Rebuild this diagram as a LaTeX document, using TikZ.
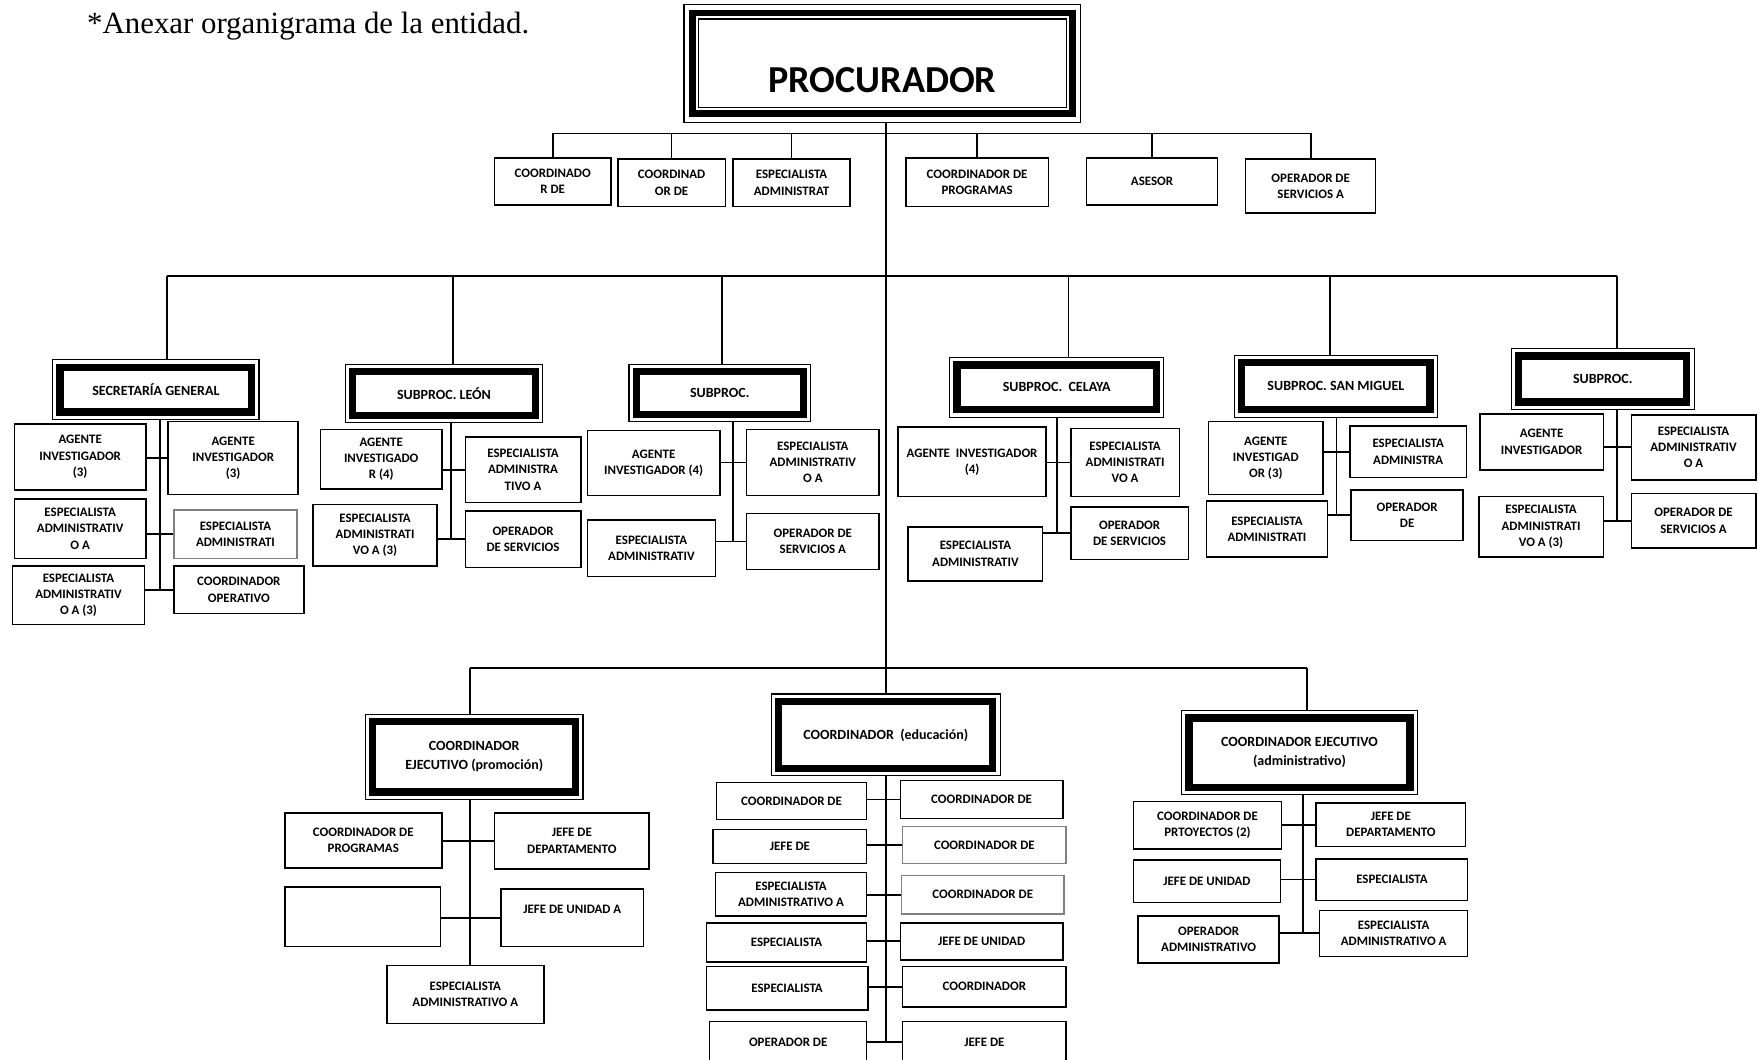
\documentclass[tikz,border=0pt]{standalone}
\usepackage{fontspec}
\setmainfont{Carlito}
\newfontfamily\tnr{Liberation Serif}
\tikzset{
  sz/.style 2 args={minimum width=#1pt, minimum height=#2pt},
  caja/.style={draw, line width=1.4pt, inner sep=1pt, align=center, font=\bfseries\fontsize{11.5}{14.5}\selectfont},
  gris/.style={caja, draw=black!50},
  jefe/.style={draw, line width=1pt, inner sep=1pt, align=center, font=\bfseries\fontsize{12.5}{17}\selectfont,
    path picture={\draw[line width=6.5pt] ([xshift=6.5pt,yshift=-6.5pt]path picture bounding box.north west) rectangle ([xshift=-6.5pt,yshift=6.5pt]path picture bounding box.south east);}},
  procbox/.style={draw, line width=1.2pt, inner sep=1pt, font=\bfseries\fontsize{34}{40}\selectfont, text height=52pt, text depth=0pt,
    path picture={\draw[line width=6pt] ([xshift=7.5pt,yshift=-7.5pt]path picture bounding box.north west) rectangle ([xshift=-7.5pt,yshift=7.5pt]path picture bounding box.south east);
      \draw[line width=1.2pt] ([xshift=13pt,yshift=-13pt]path picture bounding box.north west) rectangle ([xshift=-13pt,yshift=13pt]path picture bounding box.south east);}}
}
\begin{document}
\begin{tikzpicture}[x=1pt, y=-1pt, line width=1.6pt]
	\useasboundingbox (0,0) rectangle (1568,945);
	\node (tit)[anchor=base west, inner sep=0pt, font=\tnr\fontsize{27.5}{32}\selectfont] at (77,30) {*Anexar organigrama de la entidad.};
	% procurador y apoyo
	\node (proc)[procbox, sz={354}{105}] at (787,56.5) {PROCURADOR};
	\node (st1)[caja, sz={104}{42}] at (493,162) {COORDINADO\\R DE};
	\node (st2)[caja, sz={96}{42}] at (599,163) {COORDINAD\\OR DE};
	\node (st3)[caja, sz={104}{42}] at (706,163) {ESPECIALISTA\\ADMINISTRAT};
	\node (st4)[caja, sz={127}{43}] at (871.5,162.5) {COORDINADOR DE\\PROGRAMAS};
	\node (st5)[caja, sz={117}{42}] at (1027.5,162) {ASESOR};
	\node (st6)[caja, sz={116}{48}] at (1169,166) {OPERADOR DE\\SERVICIOS A};
	% subprocuradurias
	\node (sg)[jefe, sz={184}{53}] at (139,347.5) {SECRETARÍA GENERAL};
	\node (le)[jefe, sz={176}{52}] at (396,351) {SUBPROC. LEÓN};
	\node (sx)[jefe, sz={162}{51}] at (642,350.5) {SUBPROC.};
	\node (ce)[jefe, sz={191}{53}] at (942.5,345.5) {SUBPROC.~~CELAYA};
	\node (sm)[jefe, sz={181}{55}] at (1191.5,344.5) {SUBPROC. SAN MIGUEL};
	\node (sy)[jefe, sz={163}{54}] at (1429.5,338) {SUBPROC.};
	% secretaria general
	\node (sgA)[caja, sz={117}{59}] at (71.5,407.5) {AGENTE\\INVESTIGADOR\\(3)};
	\node (sgB)[caja, sz={117}{53}] at (71.5,471.5) {ESPECIALISTA\\ADMINISTRATIV\\O A};
	\node (sgC)[caja, sz={118}{52}] at (70,531) {ESPECIALISTA\\ADMINISTRATIV\\O A (3)};
	\node (sgD)[caja, sz={116}{65}] at (208,408.5) {AGENTE\\INVESTIGADOR\\(3)};
	\node (sgE)[gris, sz={110}{43}] at (210,476.5) {ESPECIALISTA\\ADMINISTRATI};
	\node (sgF)[caja, sz={116}{42}] at (213,526) {COORDINADOR\\OPERATIVO};
	% leon
	\node (leA)[caja, sz={108}{53}] at (340,409.5) {AGENTE\\INVESTIGADO\\R (4)};
	\node (leB)[caja, sz={111}{55}] at (334.5,477.5) {ESPECIALISTA\\ADMINISTRATI\\VO A (3)};
	\node (leC)[caja, sz={103}{58}] at (466.5,419) {ESPECIALISTA\\ADMINISTRA\\TIVO A};
	\node (leD)[caja, sz={103}{50}] at (466.5,481) {OPERADOR\\DE SERVICIOS};
	% subproc.
	\node (sxA)[caja, sz={118}{58}] at (583,413) {AGENTE\\INVESTIGADOR (4)};
	\node (sxB)[caja, sz={114}{50}] at (581,489) {ESPECIALISTA\\ADMINISTRATIV};
	\node (sxC)[caja, sz={118}{59}] at (725,412.5) {ESPECIALISTA\\ADMINISTRATIV\\O A};
	\node (sxD)[caja, sz={118}{50}] at (725,483) {OPERADOR DE\\SERVICIOS A};
	% celaya
	\node (ceA)[caja, sz={132}{62}] at (867,412) {AGENTE~~INVESTIGADOR\\(4)};
	\node (ceB)[caja, sz={120}{48}] at (870,494) {ESPECIALISTA\\ADMINISTRATIV};
	\node (ceC)[caja, sz={97}{61}] at (1003.5,412.5) {ESPECIALISTA\\ADMINISTRATI\\VO A};
	\node (ceD)[caja, sz={105}{47}] at (1007.5,475.5) {OPERADOR\\DE SERVICIOS};
	% san miguel
	\node (smA)[caja, sz={102}{65}] at (1129,408.5) {AGENTE\\INVESTIGAD\\OR (3)};
	\node (smB)[caja, sz={108}{50}] at (1130,472) {ESPECIALISTA\\ADMINISTRATI};
	\node (smC)[caja, sz={104}{46}] at (1256,403) {ESPECIALISTA\\ADMINISTRA};
	\node (smD)[caja, sz={100}{45}] at (1255,459.5) {OPERADOR\\DE};
	% subproc. derecha
	\node (syA)[caja, sz={110}{50}] at (1375,394) {AGENTE\\INVESTIGADOR};
	\node (syB)[caja, sz={111}{54}] at (1374.5,470) {ESPECIALISTA\\ADMINISTRATI\\VO A (3)};
	\node (syC)[caja, sz={111}{58}] at (1510.5,399) {ESPECIALISTA\\ADMINISTRATIV\\O A};
	\node (syD)[caja, sz={111}{49}] at (1510.5,464.5) {OPERADOR DE\\SERVICIOS A};
	% coordinaciones
	\node (pr)[jefe, sz={194}{76}] at (423,675) {COORDINADOR\\EJECUTIVO (promoción)};
	\node (ed)[jefe, sz={204}{73}] at (790,655.5) {COORDINADOR~~(educación)};
	\node (ad)[jefe, sz={210}{75}] at (1159,671.5) {COORDINADOR EJECUTIVO\\(administrativo)};
	% promocion
	\node (prA)[caja, sz={140}{49}] at (324,749.5) {COORDINADOR DE\\PROGRAMAS};
	\node (prB)[caja, sz={139}{53}] at (323.5,817.5) {};
	\node (prC)[caja, sz={138}{50}] at (510,750) {JEFE DE\\DEPARTAMENTO};
	\node (prD)[caja, sz={127}{51}] at (510.5,818.5) {JEFE DE UNIDAD A\\\mbox{}};
	\node (prE)[caja, sz={140}{52}] at (415,887) {ESPECIALISTA\\ADMINISTRATIVO A};
	% educacion
	\node (edA)[caja, sz={134}{33}] at (706,714.5) {COORDINADOR DE};
	\node (edB)[caja, sz={137}{30}] at (704.5,755) {JEFE DE};
	\node (edC)[caja, sz={135}{39}] at (705.5,797.5) {ESPECIALISTA\\ADMINISTRATIVO A};
	\node (edD)[caja, sz={143}{35}] at (701.5,840.5) {ESPECIALISTA};
	\node (edE)[caja, sz={144}{39}] at (702,881.5) {ESPECIALISTA};
	\node (edF)[caja, sz={140}{37}] at (703,929.5) {OPERADOR DE};
	\node (edG)[caja, sz={145}{34}] at (875.5,713) {COORDINADOR DE};
	\node (edH)[gris, sz={146}{33}] at (878,753.5) {COORDINADOR DE};
	\node (edI)[gris, sz={145}{34}] at (876.5,798) {COORDINADOR DE};
	\node (edJ)[caja, sz={145}{33}] at (875.5,839.5) {JEFE DE UNIDAD};
	\node (edK)[caja, sz={146}{36}] at (878,880) {COORDINADOR};
	\node (edL)[caja, sz={146}{37}] at (878,929.5) {JEFE DE};
	% administrativo
	\node (adA)[caja, sz={132}{42}] at (1077,736) {COORDINADOR DE\\PRTOYECTOS (2)};
	\node (adB)[caja, sz={131}{38}] at (1076.5,786) {JEFE DE UNIDAD};
	\node (adC)[caja, sz={126}{42}] at (1078,838) {OPERADOR\\ADMINISTRATIVO};
	\node (adD)[caja, sz={133}{39}] at (1240.5,735.5) {JEFE DE\\DEPARTAMENTO};
	\node (adE)[caja, sz={135}{37}] at (1241.5,784.5) {ESPECIALISTA};
	\node (adF)[caja, sz={132}{41}] at (1243,832.5) {ESPECIALISTA\\ADMINISTRATIVO A};
	% lineas
	\coordinate (busA) at (0,119);
	\coordinate (busB) at (0,246);
	\coordinate (busC) at (0,596);
	\draw (proc.south -| ed.north)--(ed.north);
	\draw (st1.north |- busA)--(st6.north |- busA);
	\foreach \n in {st1,st2,st3,st4,st5,st6}
	{
		\draw (\n.north)--(\n.north |- busA);
	}
	\foreach \n/\d in {sg/10, le/8, sx/2, ce/10.5, sm/-5.5, sy/12.5, pr/-4, ed/0, ad/7}
	{
		\coordinate (u\n) at ([xshift=\d pt]\n.north);
	}
	\draw (usg |- busB)--(usy |- busB);
	\draw (upr |- busC)--(uad |- busC);
	\foreach \n in {sg,le,sx,ce,sm,sy}
	{
		\draw (u\n)--(u\n |- busB);
	}
	\foreach \n in {pr,ad}
	{
		\draw (u\n)--(u\n |- busC);
	}
	\foreach \n/\d/\b in {sg/4/sgF, le/6/leD, sx/12/sxD, ce/0.5/ceD, sm/0.5/smD, sy/13/syD, ed/0/edL, ad/3/adF}
	{
		\coordinate (t\n) at ([xshift=\d pt]\n.south);
		\draw (t\n)--(t\n |- \b.west);
	}
	\coordinate (tpr) at ([xshift=-4pt]pr.south);
	\draw (tpr)--(tpr |- prE.north);
	\foreach \l/\r in {sgA/sgD, sgB/sgE, sgC/sgF, leA/leC, leB/leD, sxA/sxC, sxB/sxD, ceA/ceC, ceB/ceD, smA/smC, smB/smD, syA/syC, syB/syD, prA/prC, prB/prD, edA/edG, edB/edH, edC/edI, edD/edJ, edE/edK, edF/edL, adA/adD, adB/adE, adC/adF}
	{
		\draw (\l.east |- \r.west)--(\r.west);
	}
\end{tikzpicture}
\end{document}
